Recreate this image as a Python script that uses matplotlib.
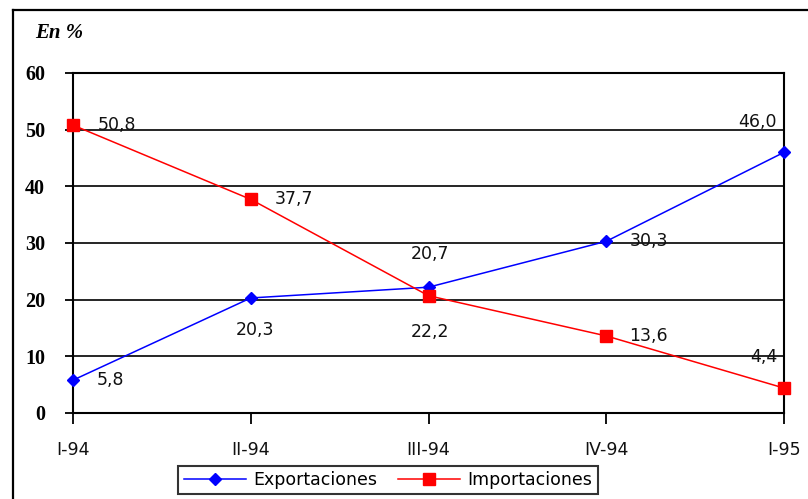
import matplotlib
matplotlib.use("Agg")
import matplotlib.pyplot as plt
from matplotlib.lines import Line2D

quarters = ["I-94", "II-94", "III-94", "IV-94", "I-95"]
exportaciones = [5.8, 20.3, 22.2, 30.3, 46.0]
importaciones = [50.8, 37.7, 20.7, 13.6, 4.4]
y_ticks = [0, 10, 20, 30, 40, 50, 60]

# label placement per point: (dx, dy, ha) in pixels
exp_offsets = [(24, 0, "left"), (4, -32, "center"), (1, -45, "center"),
               (23, 0, "left"), (-7, 30, "right")]
imp_offsets = [(25, 0, "left"), (24, 0, "left"), (1, 42, "center"),
               (23, 0, "left"), (-7, 31, "right")]

W, H = 808, 499
fig = plt.figure(figsize=(W / 100, H / 100), dpi=100)

# outer frame of the chart area
fig.add_artist(Line2D([13 / W, 13 / W], [0, 1 - 10 / H], color="black", lw=1.6,
                      transform=fig.transFigure))
fig.add_artist(Line2D([13 / W, 1], [1 - 10 / H, 1 - 10 / H], color="black", lw=1.6,
                      transform=fig.transFigure))

ax = fig.add_axes([73 / W, (H - 413) / H, (784 - 73) / W, (413 - 73) / H])
x = list(range(len(quarters)))

ax.plot(x, exportaciones, color="#0000ff", lw=1.1, marker="D", ms=6.5,
        label="Exportaciones", zorder=3, clip_on=False)
ax.plot(x, importaciones, color="#ff0000", lw=1.1, marker="s", ms=8,
        label="Importaciones", zorder=3, clip_on=False)

def fmt(v):
    return f"{v:.1f}".replace(".", ",")

for series, offs in ((exportaciones, exp_offsets), (importaciones, imp_offsets)):
    for xi, v, (dx, dy, ha) in zip(x, series, offs):
        ax.annotate(fmt(v), (xi, v), xytext=(dx, dy), textcoords="offset pixels",
                    ha=ha, va="center", fontsize=12.5, family="DejaVu Sans",
                    color="#111111", zorder=4)

ax.set_xlim(0, 4)
ax.set_ylim(0, 60)
ax.set_yticks(y_ticks)
ax.set_xticks(x)
ax.set_xticklabels(quarters, fontsize=12.5, family="DejaVu Sans", color="#111111")
ax.set_yticklabels([str(t) for t in y_ticks], fontsize=14.5, family="Liberation Serif",
                   fontweight="bold")
ax.tick_params(axis="y", length=6, width=1.3, pad=14)
ax.tick_params(axis="x", length=8, width=1.3, pad=12, direction="out")
ax.grid(axis="y", color="black", lw=1.2)
ax.set_axisbelow(True)
for s in ax.spines.values():
    s.set_linewidth(1.5)
    s.set_color("black")

fig.text(35 / W, 1 - 33 / H, "En %", fontsize=15, family="Liberation Serif",
         fontweight="bold", style="italic", va="center", ha="left")

leg = fig.legend(loc="center", bbox_to_anchor=(388 / W, 1 - 480 / H), ncol=2,
                 frameon=True, fancybox=False, edgecolor="black",
                 handlelength=3.6, columnspacing=1.2, handletextpad=0.4,
                 borderpad=0.3, prop={"family": "DejaVu Sans", "size": 12.5})
leg.get_frame().set_linewidth(1.5)

fig.savefig("out.png", dpi=100)
